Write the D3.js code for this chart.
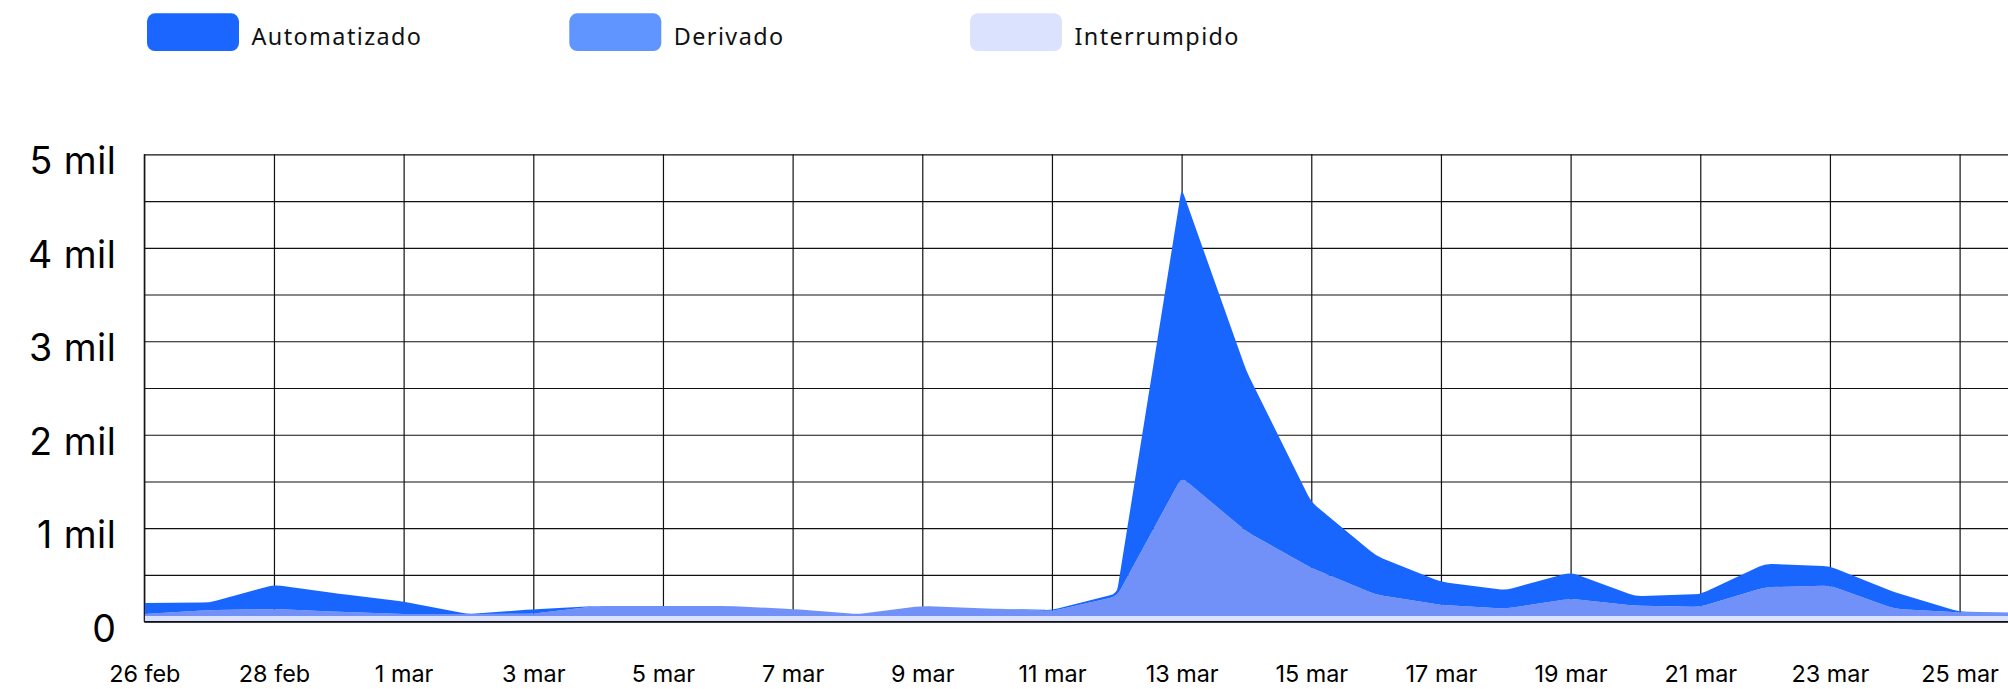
<!DOCTYPE html>
<html>
<head>
<meta charset="utf-8">
<script src="https://cdn.jsdelivr.net/npm/d3@7"></script>
<style>
  body { margin: 0; background: #fff; }
  svg { display: block; }
</style>
</head>
<body>
<script>
// data (one value per day)
const dates = ["2024-02-26","2024-02-27","2024-02-28","2024-02-29","2024-03-01","2024-03-02","2024-03-03","2024-03-04","2024-03-05","2024-03-06",
               "2024-03-07","2024-03-08","2024-03-09","2024-03-10","2024-03-11","2024-03-12","2024-03-13","2024-03-14","2024-03-15","2024-03-16",
               "2024-03-17","2024-03-18","2024-03-19","2024-03-20","2024-03-21","2024-03-22","2024-03-23","2024-03-24","2024-03-25","2024-03-26"];
const interrumpido = [60,60,60,60,60,60,60,60,60,60, 60,60,60,60,60,60,60,60,60,60, 60,60,60,60,60,60,60,60,60,60];
const derivado     = [22,65,75,47,22,22,26,108,108,108, 76,22,108,80,55,210,1485,905,515,230, 119,81,186,111,100,309,325,76,40,35];
const automatizado = [118,80,260,193,133,0,47,0,0,0, 0,0,0,0,10,30,3090,1715,705,415, 247,198,281,102,135,251,208,178,7,0];

const seriesNames = ["Automatizado", "Derivado", "Interrumpido"];
const areaColours = ["#1966ff", "#7191f8", "#dae1fd"];
const legendColours = ["#1a66ff", "#6094ff", "#dbe2fd"];

const xTicks = ["2024-02-26","2024-02-28","2024-03-01","2024-03-03","2024-03-05","2024-03-07","2024-03-09","2024-03-11",
                "2024-03-13","2024-03-15","2024-03-17","2024-03-19","2024-03-21","2024-03-23","2024-03-25"];
const xTickLabels = ["26 feb","28 feb","1 mar","3 mar","5 mar","7 mar","9 mar","11 mar","13 mar","15 mar","17 mar","19 mar","21 mar","23 mar","25 mar"];
const yTicks = [0, 1000, 2000, 3000, 4000, 5000];
const yTickLabels = ["0", "1 mil", "2 mil", "3 mil", "4 mil", "5 mil"];
const yGrid = [0, 500, 1000, 1500, 2000, 2500, 3000, 3500, 4000, 4500, 5000];

// layout
const W = 2008, H = 689;
const plotLeft = 144.3, plotRight = 1959.6, plotTop = 154.3, plotBottom = 621.7;

const svg = d3.select("body").append("svg")
    .attr("width", W)
    .attr("height", H);

const parseDate = d3.utcParse("%Y-%m-%d");

const x = d3.scaleUtc()
    .domain([parseDate("2024-02-26"), parseDate("2024-03-25")])
    .range([plotLeft, plotRight]);
const y = d3.scaleLinear().domain([0, 5000]).range([plotBottom, plotTop]);

// straight segments with softened corners
function roundedLinear(radius) {
    function Curve(context) { this._context = context; }
    Curve.prototype = {
        areaStart() { this._line = 0; },
        areaEnd() { this._line = NaN; },
        lineStart() { this._pts = []; },
        lineEnd() {
            const p = this._pts, c = this._context, n = p.length;
            if (n) {
                this._line ? c.lineTo(p[0][0], p[0][1]) : c.moveTo(p[0][0], p[0][1]);
                for (let i = 1; i < n - 1; i++) {
                    const [x0, y0] = p[i - 1], [x1, y1] = p[i], [x2, y2] = p[i + 1];
                    const d1 = Math.hypot(x1 - x0, y1 - y0), d2 = Math.hypot(x2 - x1, y2 - y1);
                    const r = Math.min(radius, d1 / 2, d2 / 2);
                    if (r < 0.01) { c.lineTo(x1, y1); continue; }
                    c.lineTo(x1 - (x1 - x0) / d1 * r, y1 - (y1 - y0) / d1 * r);
                    c.quadraticCurveTo(x1, y1, x1 + (x2 - x1) / d2 * r, y1 + (y2 - y1) / d2 * r);
                }
                if (n > 1) c.lineTo(p[n - 1][0], p[n - 1][1]);
            }
            if (this._line || (this._line !== 0 && n === 1)) c.closePath();
            this._line = 1 - this._line;
        },
        point(px, py) { this._pts.push([+px, +py]); }
    };
    return context => new Curve(context);
}

// build the table for the stack
const table = dates.map((d, i) => ({
    date: parseDate(d),
    Interrumpido: interrumpido[i],
    Derivado: derivado[i],
    Automatizado: automatizado[i]
}));

const stacked = d3.stack().keys(["Interrumpido", "Derivado", "Automatizado"])(table);
const color = d3.scaleOrdinal().domain(seriesNames).range(areaColours);

// horizontal grid
const yg = svg.append("g")
    .attr("transform", "translate(" + plotLeft + ",0)")
    .call(d3.axisLeft(y).tickValues(yGrid).tickSize(-(W - plotLeft)).tickFormat(""));
yg.select(".domain").remove();
yg.selectAll("line").attr("stroke", "#111").attr("stroke-width", 1.2);

// vertical grid
const xg = svg.append("g")
    .attr("transform", "translate(0," + plotBottom + ")")
    .call(d3.axisBottom(x).tickValues(xTicks.map(parseDate)).tickSize(-(plotBottom - plotTop)).tickFormat(""));
xg.select(".domain").remove();
xg.selectAll("line").attr("stroke", "#111").attr("stroke-width", 1.2);

// areas
const area = d3.area()
    .x(d => x(d.data.date))
    .y0(d => y(d[0]))
    .y1(d => y(d[1]))
    .curve(roundedLinear(7));

svg.append("g").selectAll("path")
    .data(stacked)
    .enter()
    .append("path")
    .attr("fill", d => color(d.key))
    .attr("d", area);

// left border and baseline on top
svg.append("line").attr("x1", plotLeft).attr("x2", plotLeft).attr("y1", plotTop).attr("y2", plotBottom)
    .attr("stroke", "#111").attr("stroke-width", 1.2);
svg.append("line").attr("x1", plotLeft).attr("x2", W).attr("y1", plotBottom).attr("y2", plotBottom)
    .attr("stroke", "#111").attr("stroke-width", 1.2);

// y labels
const ya = svg.append("g")
    .attr("transform", "translate(" + plotLeft + ",0)")
    .call(d3.axisLeft(y).tickValues(yTicks).tickSize(0).tickPadding(28)
        .tickFormat((d, i) => yTickLabels[i]));
ya.select(".domain").remove();
ya.selectAll("text")
    .attr("dy", 19.5)
    .attr("fill", "#000")
    .style("font-family", "Inter, sans-serif")
    .style("font-size", "37.5px")
    .style("letter-spacing", "0.5px");

// x labels
const xa = svg.append("g")
    .attr("transform", "translate(0," + plotBottom + ")")
    .call(d3.axisBottom(x).tickValues(xTicks.map(parseDate)).tickSize(0).tickPadding(0)
        .tickFormat((d, i) => xTickLabels[i]));
xa.select(".domain").remove();
xa.selectAll("text")
    .attr("y", 60)
    .attr("dy", 0)
    .attr("fill", "#000")
    .style("font-family", "Inter, sans-serif")
    .style("font-size", "23.4px");

// legend
const legendX = [147, 569.3, 970];
const legend = svg.append("g");
for (let i = 0; i < seriesNames.length; i++) {
    legend.append("rect")
        .attr("x", legendX[i]).attr("y", 13.3)
        .attr("width", 92).attr("height", 37.7)
        .attr("rx", 8).attr("ry", 8)
        .attr("fill", legendColours[i]);
    legend.append("text")
        .attr("x", legendX[i] + 104.5).attr("y", 45)
        .text(seriesNames[i])
        .attr("fill", "#111")
        .style("font-family", "'Noto Sans', sans-serif")
        .style("font-size", "23.4px")
        .style("letter-spacing", "1.4px");
}
</script>
</body>
</html>
